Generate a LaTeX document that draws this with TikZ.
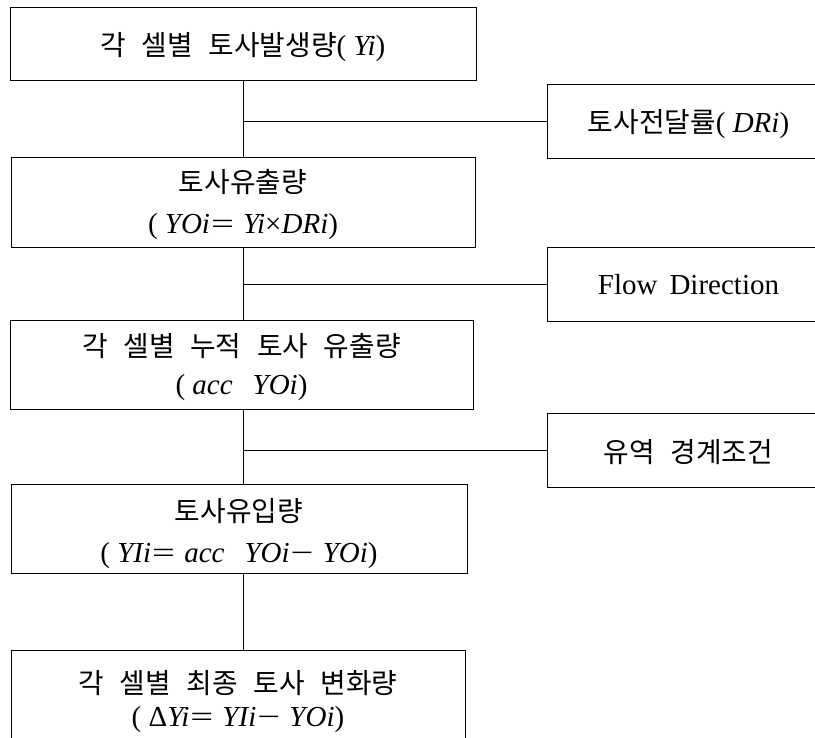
\documentclass[tikz,border=0pt]{standalone}
\usepackage{fontspec}
\usepackage{graphicx}
\setmainfont{Liberation Serif}
\newfontfamily\kr[Scale=0.96,WordSpace=2.5]{Noto Sans CJK KR}
\newcommand{\EQ}{\hspace{1pt}\scalebox{1.4}[1]{=}\hspace{2pt} }
\newcommand{\MI}{\hspace{1pt}\scalebox{1.4}[1]{−}\hspace{2pt} }
\begin{document}
\begin{tikzpicture}[x=1pt,y=-1pt,
  box/.style={draw, line width=0.9pt, inner sep=0pt},
  txt/.style={inner sep=0pt, align=center, font=\fontsize{29}{41}\selectfont},
  link/.style={line width=0.9pt}]
\useasboundingbox (0,0) rectangle (815,738);
\clip (0,0) rectangle (815,738);
\coordinate (t) at (243,0);
\node[box, minimum width=466pt, minimum height=73pt] (b1) at (243,43.5) {};
\node[box, minimum width=464pt, minimum height=90pt] (b2) at (243,202) {};
\node[box, minimum width=463pt, minimum height=89pt] (b3) at (241.5,364.5) {};
\node[box, minimum width=456pt, minimum height=89pt] (b4) at (239,528.5) {};
\node[box, minimum width=454pt, minimum height=102pt] (b5) at (238,701) {};
\node[box, minimum width=283pt, minimum height=74pt] (s1) at (688.5,121) {};
\node[box, minimum width=283pt, minimum height=74pt] (s2) at (688.5,284) {};
\node[box, minimum width=283pt, minimum height=74pt] (s3) at (688.5,450) {};
\node[txt] (t1) at ([yshift=-4pt]b1.center)
  {{\kr 각 셀별 토사발생량}( \textit{Yi})};
\node[txt] (t2) at ([yshift=-3pt]b2.center)
  {{\kr 토사유출량}\\( \textit{YOi}\EQ\textit{Yi}×\textit{DRi})};
\node[txt] (t3) at ([yshift=-3pt]b3.center)
  {{\kr 각 셀별 누적 토사 유출량}\\[-3pt]( \textit{acc}\hspace{20pt}\textit{YOi})};
\node[txt] (t4) at ([yshift=-5pt]b4.center)
  {{\kr 토사유입량}\\( \textit{YIi}\EQ\textit{acc}\hspace{20pt}\textit{YOi}\MI\textit{YOi})};
\node[txt] (t5) at ([yshift=-1pt]b5.center)
  {{\kr 각 셀별 최종 토사 변화량}\\[-8pt]( Δ\textit{Yi}\EQ\textit{YIi}\MI\textit{YOi})};
\node[txt] (u1) at ([yshift=-3pt]s1.center) {{\kr 토사전달률}( \textit{DRi})};
\node[txt] (u2) at ([yshift=-1pt]s2.center) {Flow\hspace{12pt}Direction};
\node[txt] (u3) at ([yshift=-2pt]s3.center) {{\kr 유역 경계조건}};
\draw[link] (b1.south -| t) -- (b2.north -| t);
\draw[link] (b2.south -| t) -- (b3.north -| t);
\draw[link] (b3.south -| t) -- (b4.north -| t);
\draw[link] (b4.south -| t) -- (b5.north -| t);
\draw[link] (s1.west -| t) -- (s1.west);
\draw[link] (s2.west -| t) -- (s2.west);
\draw[link] (s3.west -| t) -- (s3.west);
\end{tikzpicture}
\end{document}
